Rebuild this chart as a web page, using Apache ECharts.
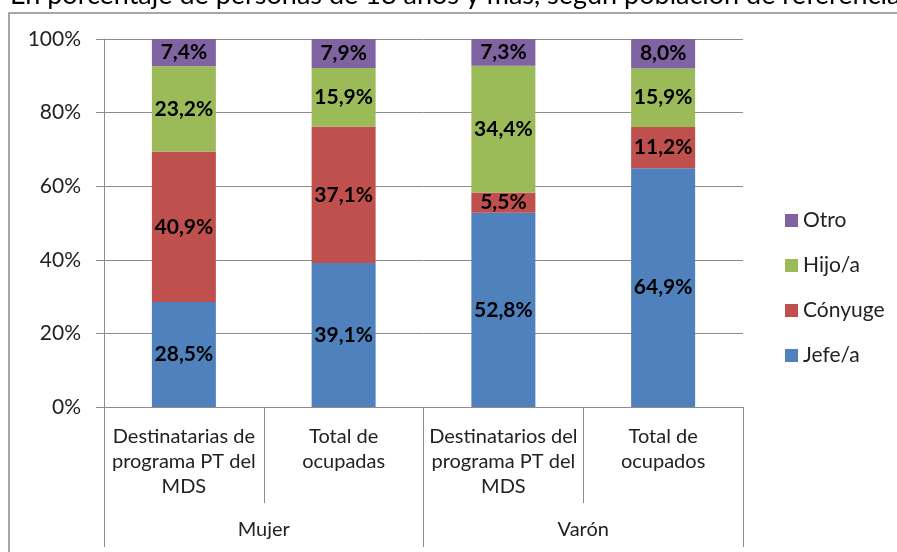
<!DOCTYPE html>
<html>
<head>
<meta charset="utf-8">
<script src="https://cdn.jsdelivr.net/npm/echarts@6/dist/echarts.min.js"></script>
<style>html,body{margin:0;padding:0;background:#fff}#c{width:897px;height:552px}</style>
</head>
<body>
<div id="c"></div>
<script>
var categories = ["Destinatarias de\nprograma PT del\nMDS", "Total de\nocupadas", "Destinatarios del\nprograma PT del\nMDS", "Total de\nocupados"];
var groups = ["Mujer", "Varón"];
var jefe = [28.5, 39.1, 52.8, 64.9];
var conyuge = [40.9, 37.1, 5.5, 11.2];
var hijo = [23.2, 15.9, 34.4, 15.9];
var otro = [7.4, 7.9, 7.3, 8.0];
var seriesNames = ["Jefe/a", "Cónyuge", "Hijo/a", "Otro"];
var legendOrder = ["Otro", "Hijo/a", "Cónyuge", "Jefe/a"];
var yTicks = [0, 20, 40, 60, 80, 100];
var titleText = "En porcentaje de personas de 18 años y más, según población de referencia";

var FONT = "Lato";
var colors = ["#4F81BD", "#C0504D", "#9BBB59", "#8064A2"];
var gridColor = "#8c8c8c";
var chart = echarts.init(document.getElementById('c'), null, {renderer: 'canvas'});

function mk(name, data, color) {
  return {
    name: name, type: 'bar', stack: 'total', data: data, barWidth: 64,
    itemStyle: {color: color},
    label: {
      show: true, position: 'inside', color: '#000', fontWeight: 'bold',
      fontSize: 21, fontFamily: FONT,
      formatter: function (p) { return p.value.toFixed(1).replace('.', ',') + '%'; }
    }
  };
}

chart.setOption({
  animation: false,
  textStyle: {fontFamily: FONT},
  graphic: [
    {type: 'rect', shape: {x: 9, y: 13, width: 1000, height: 700},
     style: {fill: null, stroke: '#8a8a8a', lineWidth: 1.5}, silent: true},
    {type: 'text', left: 10, top: -18,
     style: {text: titleText, fontSize: 27, fontFamily: FONT, fill: '#000'}}
  ],
  grid: {left: 104, right: 154, top: 39, bottom: 145, containLabel: false},
  legend: {
    orient: 'vertical', left: 780, top: 205, itemWidth: 13, itemHeight: 13,
    itemGap: 24, data: legendOrder, icon: 'rect',
    textStyle: {fontSize: 21, color: '#222', fontFamily: FONT}
  },
  xAxis: [
    {
      type: 'category', data: categories, position: 'bottom',
      axisLine: {show: true, lineStyle: {color: gridColor, width: 1}},
      axisTick: {show: true, interval: 0, length: 96, lineStyle: {color: gridColor}},
      axisLabel: {interval: 0, fontSize: 20, lineHeight: 25, color: '#222', margin: 17, fontFamily: FONT}
    },
    {
      type: 'category', data: groups, position: 'bottom',
      axisLine: {show: false},
      axisTick: {show: true, interval: 0, length: 140, lineStyle: {color: gridColor}},
      axisLabel: {interval: 0, fontSize: 20, color: '#222', margin: 113, fontFamily: FONT}
    }
  ],
  yAxis: {
    type: 'value', min: yTicks[0], max: yTicks[yTicks.length - 1], interval: 20,
    axisLine: {show: true, lineStyle: {color: gridColor}},
    axisTick: {show: true, length: 8, lineStyle: {color: gridColor}},
    splitLine: {show: true, lineStyle: {color: gridColor}},
    axisLabel: {fontSize: 21, color: '#222', margin: 23, fontFamily: FONT, formatter: '{value}%'}
  },
  series: [
    mk(seriesNames[0], jefe, colors[0]),
    mk(seriesNames[1], conyuge, colors[1]),
    mk(seriesNames[2], hijo, colors[2]),
    mk(seriesNames[3], otro, colors[3])
  ]
});
</script>
</body>
</html>
